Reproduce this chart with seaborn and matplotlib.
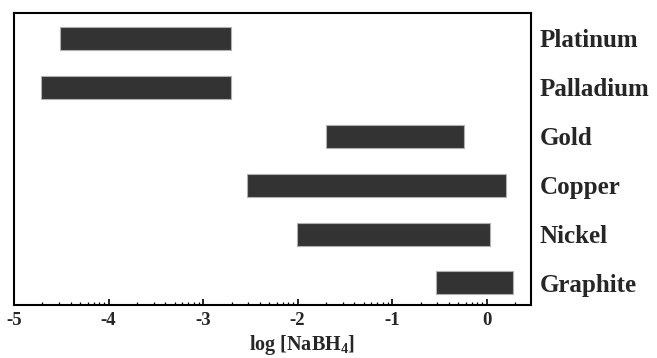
import numpy as np
import pandas as pd
import matplotlib
matplotlib.use("Agg")
import matplotlib.pyplot as plt
import matplotlib.ticker as mticker
import seaborn as sns

sns.set_style("white")
plt.rcParams['font.family'] = ['Liberation Serif', 'DejaVu Serif']
plt.rcParams['font.weight'] = 'bold'
plt.rcParams['axes.unicode_minus'] = False
plt.rcParams['mathtext.fontset'] = 'custom'
plt.rcParams['mathtext.rm'] = 'Liberation Serif:bold'
plt.rcParams['mathtext.bf'] = 'Liberation Serif:bold'
plt.rcParams['mathtext.default'] = 'bf'

# working range of log[NaBH4] per electrode
metals = ['Platinum', 'Palladium', 'Gold', 'Copper', 'Nickel', 'Graphite']
range_start = [-4.51, -4.71, -1.70, -2.53, -2.01, -0.54]
range_end = [-2.70, -2.70, -0.24, 0.21, 0.04, 0.28]

df = pd.DataFrame({'metal': metals, 'start': range_start, 'end': range_end})
df['span'] = df['end'] - df['start']

fig = plt.figure(figsize=(6.57, 3.58), dpi=100)
ax = fig.add_axes([0.0213, 0.148, 0.787, 0.816])

sns.barplot(data=df, x='span', y='metal', order=metals, orient='y',
            left=df['start'], color='#333333', saturation=1,
            edgecolor='#b0b0b0', linewidth=0.8, width=0.47, ax=ax)

ax.set_xlim(-5, 0.47)
ax.set_ylim(5.45, -0.52)

# major ticks on integers, minor ticks like a log decade
ax.xaxis.set_major_locator(mticker.MultipleLocator(1))
minor = [n + np.log10(k) for n in range(-5, 1) for k in range(2, 10)]
ax.xaxis.set_minor_locator(mticker.FixedLocator(minor))
ax.tick_params(axis='x', which='both', bottom=True, top=False, direction='in',
               color='black')
ax.tick_params(axis='x', which='major', length=4, width=1.2,
               labelsize=13.5, pad=5)
ax.tick_params(axis='x', which='minor', length=2.5, width=0.9)

ax.yaxis.tick_right()
ax.tick_params(axis='y', which='both', length=0, labelsize=18, pad=6)
ax.set_ylabel('')

ax.set_xlabel('log [NaBH$_4$]', fontsize=14.5, fontweight='bold')
ax.xaxis.set_label_coords(0.557, -0.095)

for s in ax.spines.values():
    s.set_visible(True)
    s.set_linewidth(1.5)
    s.set_color('black')

fig.savefig('out.png', dpi=100)
